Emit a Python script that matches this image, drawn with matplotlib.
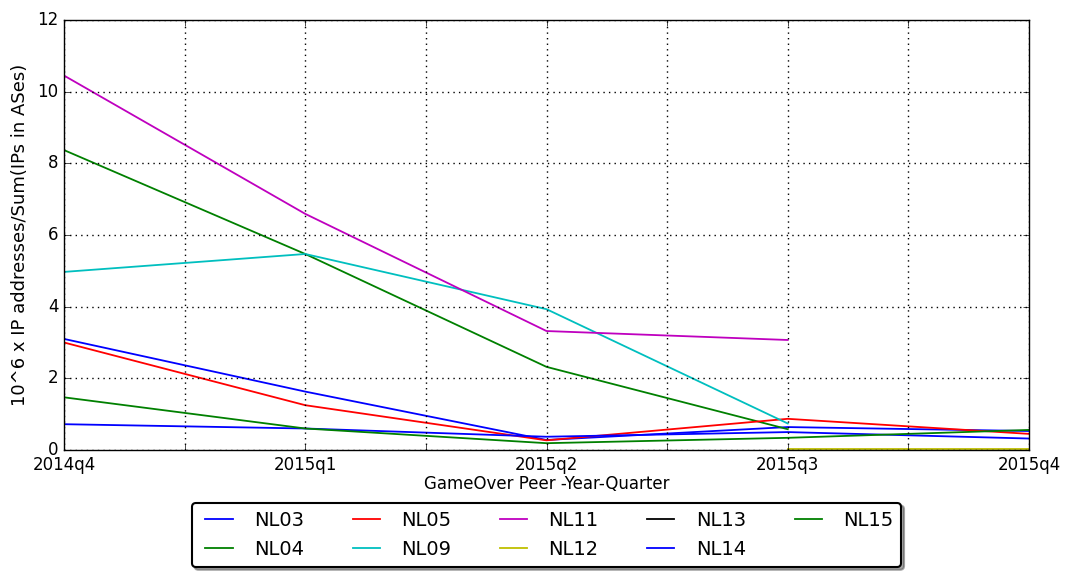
import numpy as np
import matplotlib
matplotlib.use("Agg")
import matplotlib.pyplot as plt

plt.style.use('classic')

quarters = ['2014q4', '2015q1', '2015q2', '2015q3', '2015q4']
nan = np.nan
series = {
    'NL03': [3.10, 1.63, 0.28, 0.64, 0.53],
    'NL04': [8.37, 5.47, 2.32, 0.58, nan],
    'NL05': [3.00, 1.25, 0.27, 0.87, 0.45],
    'NL09': [4.97, 5.47, 3.93, 0.74, nan],
    'NL11': [10.45, 6.59, 3.32, 3.07, nan],
    'NL12': [nan, nan, nan, 0.02, 0.02],
    'NL13': [nan, nan, nan, nan, nan],
    'NL14': [0.72, 0.60, 0.37, 0.50, 0.32],
    'NL15': [1.47, 0.60, 0.19, 0.34, 0.56],
}
colors = ['b', 'g', 'r', 'c', 'm', 'y', 'k', 'b', 'g']

fig = plt.figure(figsize=(10.73, 5.81), dpi=100, facecolor='white')
ax = fig.add_axes([64/1073, 1-450/581, (1029-64)/1073, 430/581])
ax.set_facecolor('white')
x = np.arange(len(quarters))
for (name, vals), c in zip(series.items(), colors):
    ax.plot(x, vals, color=c, lw=1.3, label=name)

ax.set_xlim(0, 4)
ax.set_ylim(0, 12)
ticks = np.arange(0, 4.01, 0.5)
ax.set_xticks(ticks)
labels = []
for t in ticks:
    labels.append(quarters[int(t)] if float(t).is_integer() else '')
ax.set_xticklabels(labels, fontsize=12)
ax.set_yticks(np.arange(0, 13, 2))
ax.tick_params(axis='y', labelsize=12)
ax.grid(True, color='k', linestyle=':', lw=1)
ax.set_xlabel('GameOver Peer -Year-Quarter', fontsize=12, labelpad=1)
ax.set_ylabel('10^6 x IP addresses/Sum(IPs in ASes)', fontsize=13, labelpad=6)

leg = ax.legend(loc='upper center', bbox_to_anchor=(0.5, -0.1), ncol=5,
                fontsize=14, shadow=True, fancybox=True, handlelength=2,
                columnspacing=2.2, borderpad=0.4, labelspacing=0.55)
leg.get_frame().set_linewidth(1.5)

fig.savefig('out.png', dpi=100, facecolor='white')
